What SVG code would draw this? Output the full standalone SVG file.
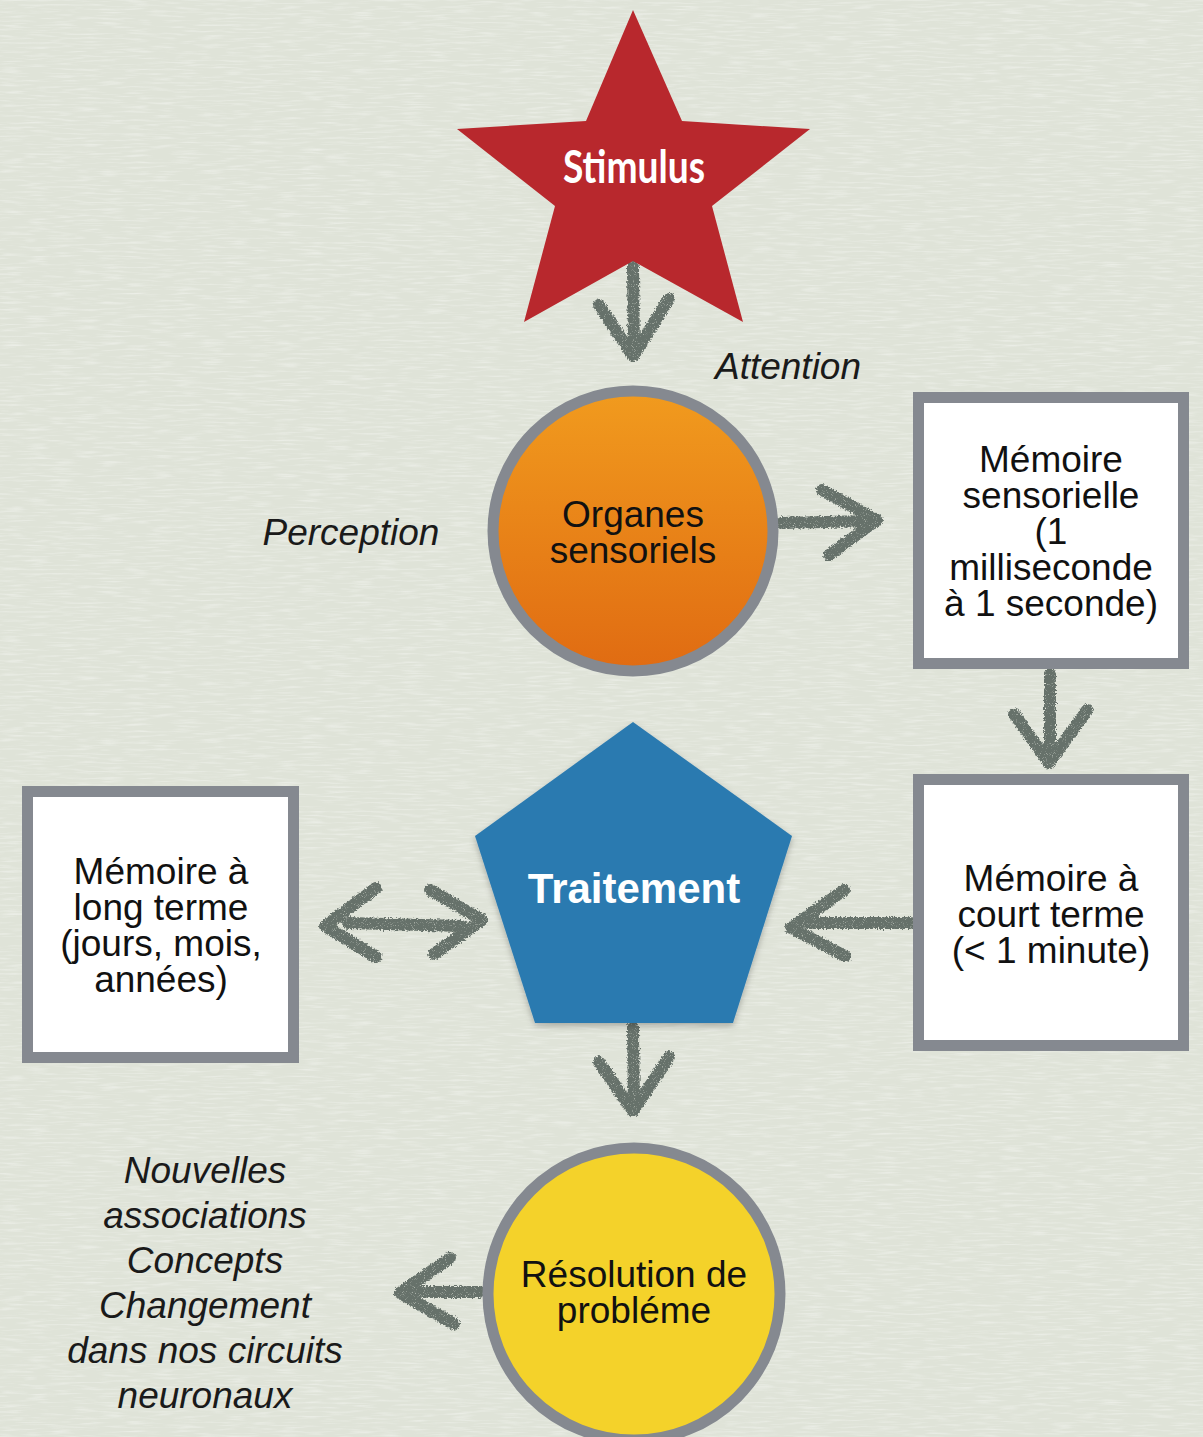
<svg xmlns="http://www.w3.org/2000/svg" width="1203" height="1437" viewBox="0 0 1203 1437">
  <defs>
    <style>
      .lbl { font-family: "Liberation Sans", Arial, sans-serif; font-size: 37px; fill: #111; text-anchor: middle; }
      .note { font-family: "Liberation Sans", Arial, sans-serif; font-size: 37px; font-style: italic; fill: #1a1a1a; text-anchor: middle; }
      .box { fill: #ffffff; stroke: #858990; stroke-width: 11; }
      .ring { stroke: #858990; stroke-width: 11; }
      .chalk { fill: none; stroke: #66716a; stroke-width: 12; stroke-linecap: round; stroke-linejoin: round; }
    </style>
    <linearGradient id="orangeFill" x1="0" y1="0" x2="0" y2="1">
      <stop offset="0" stop-color="#f19b1e"/>
      <stop offset="1" stop-color="#e06b12"/>
    </linearGradient>
    <!-- rough, speckled chalk stroke -->
    <filter id="chalkFx" x="-20%" y="-20%" width="140%" height="140%">
      <feTurbulence type="fractalNoise" baseFrequency="0.6" numOctaves="2" seed="3" result="warp"/>
      <feDisplacementMap in="SourceGraphic" in2="warp" scale="5" xChannelSelector="R" yChannelSelector="G" result="rough"/>
      <feTurbulence type="fractalNoise" baseFrequency="1.1" numOctaves="1" seed="9" result="grain"/>
      <feColorMatrix in="grain" type="matrix" values="0 0 0 0 0  0 0 0 0 0  0 0 0 0 0  -3.2 0 0 0 2.9" result="holes"/>
      <feComposite in="rough" in2="holes" operator="in"/>
    </filter>
    <!-- paper grain for the backdrop -->
    <filter id="paper" x="0" y="0" width="100%" height="100%">
      <feTurbulence type="fractalNoise" baseFrequency="0.04 0.45" numOctaves="2" seed="5" result="t"/>
      <feColorMatrix in="t" type="matrix" values="0 0 0 0 1  0 0 0 0 1  0 0 0 0 1  1.6 0 0 0 -0.75"/>
    </filter>
    <filter id="softShadow" x="-10%" y="-10%" width="120%" height="125%">
      <feDropShadow dx="0" dy="3" stdDeviation="3" flood-color="#000" flood-opacity="0.25"/>
    </filter>
  </defs>

  <!-- backdrop -->
  <rect x="0" y="0" width="1203" height="1437" fill="#dfe3d8"/>
  <rect x="0" y="0" width="1203" height="1437" filter="url(#paper)" opacity="0.55"/>

  <!-- connectors -->
  <g id="connectors" filter="url(#chalkFx)">
    <!-- Stimulus -> Organes -->
    <path class="chalk" d="M633 266 L634 354 M599 305 L633 356 L669 299"/>
    <!-- Organes -> Memoire sensorielle -->
    <path class="chalk" d="M782 523 L868 521 M822 490 L877 520 L829 555"/>
    <!-- Memoire sensorielle -> court terme -->
    <path class="chalk" d="M1050 674 L1050 762 M1014 714 L1049 763 L1087 710"/>
    <!-- court terme -> Traitement -->
    <path class="chalk" d="M910 923 L808 923 M844 890 L791 928 L845 956"/>
    <!-- Traitement <-> long terme -->
    <path class="chalk" d="M348 923 L462 926 M376 888 L325 926 L376 957 M430 890 L482 920 L434 954"/>
    <!-- Traitement -> Resolution -->
    <path class="chalk" d="M633 1027 L634 1110 M599 1062 L633 1111 L669 1057"/>
    <!-- Resolution -> outcomes -->
    <path class="chalk" d="M480 1292 L418 1292 M450 1258 L400 1293 L454 1324"/>
  </g>

  <!-- Stimulus -->
  <g id="stimulus">
    <polygon points="633,10 682,121 810,129 712,206 743,322 633,261 524,322 555,206 457,129 586,121" fill="#b8282d"/>
    <text x="634" y="183" font-family="Lato, 'Open Sans', sans-serif" font-weight="bold" font-size="45" fill="#ffffff" text-anchor="middle" textLength="142" lengthAdjust="spacingAndGlyphs">Stimulus</text>
  </g>

  <!-- labels -->
  <g id="attention-label">
    <text class="note" x="788" y="379">Attention</text>
  </g>
  <g id="perception-label">
    <text class="note" x="351" y="545">Perception</text>
  </g>

  <!-- Organes sensoriels -->
  <g id="organes">
    <circle cx="633" cy="531" r="140" fill="url(#orangeFill)" class="ring"/>
    <text class="lbl" x="633" y="527">Organes</text>
    <text class="lbl" x="633" y="563">sensoriels</text>
  </g>

  <!-- Memoire sensorielle -->
  <g id="memoire-sensorielle">
    <rect class="box" x="918.5" y="397.5" width="265" height="266"/>
    <text class="lbl" x="1051" y="472">Mémoire</text>
    <text class="lbl" x="1051" y="508">sensorielle</text>
    <text class="lbl" x="1051" y="544">(1</text>
    <text class="lbl" x="1051" y="580">milliseconde</text>
    <text class="lbl" x="1051" y="616">à 1 seconde)</text>
  </g>

  <!-- Memoire a court terme -->
  <g id="memoire-court-terme">
    <rect class="box" x="918.5" y="779.5" width="265" height="266"/>
    <text class="lbl" x="1051" y="891">Mémoire à</text>
    <text class="lbl" x="1051" y="927">court terme</text>
    <text class="lbl" x="1051" y="963">(&lt; 1 minute)</text>
  </g>

  <!-- Memoire a long terme -->
  <g id="memoire-long-terme">
    <rect class="box" x="27.5" y="791.5" width="266" height="266"/>
    <text class="lbl" x="161" y="884">Mémoire à</text>
    <text class="lbl" x="161" y="920">long terme</text>
    <text class="lbl" x="161" y="956">(jours, mois,</text>
    <text class="lbl" x="161" y="992">années)</text>
  </g>

  <!-- Traitement -->
  <g id="traitement">
    <polygon points="633,722 792,836 733,1023 535,1023 475,836" fill="#2c7ab0" filter="url(#softShadow)"/>
    <text x="634" y="903" font-family="'Liberation Sans', Arial, sans-serif" font-weight="bold" font-size="42" fill="#ffffff" text-anchor="middle">Traitement</text>
  </g>

  <!-- Resolution de probleme -->
  <g id="resolution">
    <circle cx="634" cy="1294" r="146" fill="#f4d22a" class="ring"/>
    <text class="lbl" x="634" y="1287">Résolution de</text>
    <text class="lbl" x="634" y="1323">probléme</text>
  </g>

  <!-- outcomes -->
  <g id="outcomes">
    <text class="note" x="205" y="1183">Nouvelles</text>
    <text class="note" x="205" y="1228">associations</text>
    <text class="note" x="205" y="1273">Concepts</text>
    <text class="note" x="205" y="1318">Changement</text>
    <text class="note" x="205" y="1363">dans nos circuits</text>
    <text class="note" x="205" y="1408">neuronaux</text>
  </g>
</svg>
